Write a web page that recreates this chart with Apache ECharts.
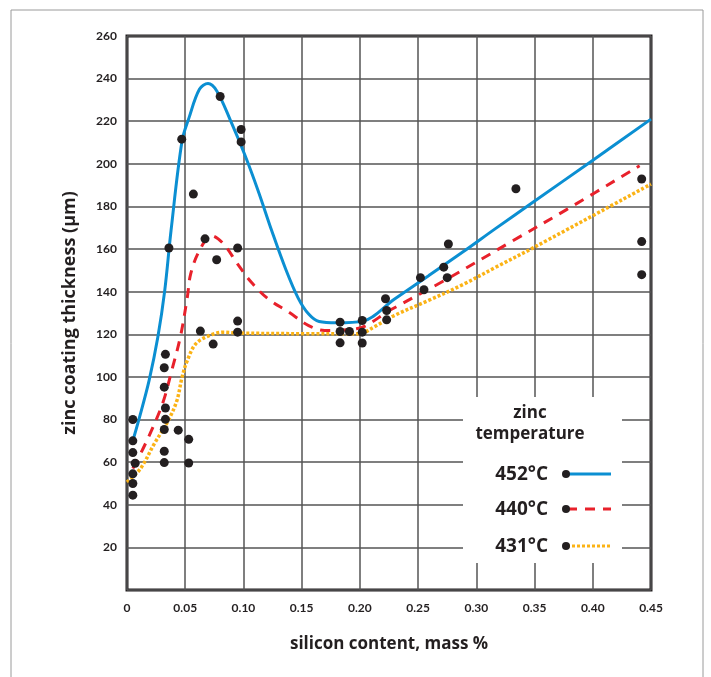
<!DOCTYPE html>
<html>
<head>
<meta charset="utf-8">
<script src="https://cdn.jsdelivr.net/npm/echarts@6/dist/echarts.min.js"></script>
<style>
html,body{margin:0;padding:0;background:#fff;}
#chart{width:711px;height:677px;}
</style>
</head>
<body>
<div id="chart"></div>
<script>
// ---- data ----
const xTickLabels = ['0','0.05','0.10','0.15','0.20','0.25','0.30','0.35','0.40','0.45'];
const yTickLabels = ['', '20','40','60','80','100','120','140','160','180','200','220','240','260'];

// measured points (silicon mass %, coating thickness µm)
const measuredSi = [0.005,0.005,0.005,0.007,0.005,0.005,0.005,
  0.033,0.032,0.032,0.033,0.033,0.032,0.032,0.032,
  0.036,0.044,0.047,0.053,0.053,0.057,0.063,0.067,0.074,0.077,0.080,
  0.095,0.095,0.095,0.098,0.098,
  0.183,0.183,0.183,0.191,0.202,0.202,0.202,
  0.222,0.223,0.223,0.252,0.255,0.272,0.275,0.276,
  0.334,0.442,0.442,0.442];
const measuredZn = [80,70,64.5,59.5,54.5,50,44.5,
  110.6,104.3,95.2,85.4,80.1,75.3,65.1,59.8,
  160.5,75,211.6,70.7,59.6,185.8,121.5,164.8,115.4,155,231.6,
  160.5,126.2,121,216.1,210.3,
  125.7,121.3,116,121.3,126.5,121,115.9,
  136.7,131.2,126.8,146.6,140.9,151.5,146.6,162.4,
  188.3,192.9,163.5,148];

// fitted curves
const si452 = [0.005,0.010,0.019,0.0265,0.0324,0.0378,0.0473,0.0533,0.0622,0.0696,0.0771,0.089,0.1009,0.1126,0.1243,0.136,0.147,0.156,0.165,0.18,0.2027,0.2295,0.259,0.2883,0.3164,0.3492,0.3998,0.45];
const zn452 = [70,79.6,98.4,118.7,140.5,168.6,210.8,221.7,235,237.7,234.2,220.2,204.6,187.4,168.6,151,137,129.5,126,125.4,126.2,136.5,147.5,158.6,169.6,182.2,201.6,221];

const si440 = [0.005,0.0131,0.0205,0.031,0.0384,0.0458,0.0518,0.0547,0.0622,0.0726,0.083,0.0949,0.1068,0.1211,0.1389,0.156,0.1697,0.197,0.2265,0.2737,0.3301,0.3771,0.4402];
const zn440 = [57,65.6,74.2,88.2,103,118.7,137.4,148.4,159.3,166.3,162.4,153,144.4,136.7,130.4,124.1,121.8,122.6,131.5,145.6,163.5,178.4,199.1];

const si431 = [0,0.0116,0.0235,0.0355,0.0429,0.0473,0.0518,0.0592,0.0712,0.083,0.0949,0.1533,0.1998,0.2116,0.2295,0.259,0.2883,0.3164,0.3492,0.45];
const zn431 = [50.6,57,68.7,79.6,89,99.9,107.7,115.6,119.5,121,120.6,120.3,120.3,123.3,128.8,135.9,143.3,151.4,160.7,190.5];

const legendLabels = ['452°C','440°C','431°C'];
const legendTitle = ['zinc','temperature'];

// ---- chart ----
const ink = '#231f20';
const FONT = 'Lato';
const TFONT = 'Open Sans';
const zip = (a,b) => a.map((v,i)=>[v,b[i]]);

const chart = echarts.init(document.getElementById('chart'));

const legendColors = ['#0b8fd2','#e8212b','#fbb316'];
const legendDash = ['solid',[10,8],[3,2]];
const legendY = [474,509,546];
const legendGraphics = [
  {type:'rect', shape:{x:463,y:397,width:159,height:166}, style:{fill:'#fff'}, z:50},
  {type:'text', style:{text:legendTitle[0], x:530, y:413, align:'center', verticalAlign:'middle', fontSize:17, fontWeight:'bold', fontFamily:TFONT, fill:ink}, z:51},
  {type:'text', style:{text:legendTitle[1], x:530, y:434, align:'center', verticalAlign:'middle', fontSize:17, fontWeight:'bold', fontFamily:TFONT, fill:ink}, z:51}
];
legendLabels.forEach((t,i)=>{
  legendGraphics.push({type:'text', style:{text:t, x:548, y:legendY[i]+1, align:'right', verticalAlign:'middle', fontSize:19, fontWeight:'bold', fontFamily:TFONT, fill:ink}, z:51});
  legendGraphics.push({type:'line', shape:{x1:567,y1:legendY[i],x2:611,y2:legendY[i]}, style:{stroke:legendColors[i], lineWidth:3, lineDash:legendDash[i]==='solid'?null:legendDash[i]}, z:51});
  legendGraphics.push({type:'circle', shape:{cx:566,cy:legendY[i],r:4}, style:{fill:ink}, z:52});
});
// outer frame lines
legendGraphics.push({type:'line', shape:{x1:11,y1:10,x2:11,y2:677}, style:{stroke:'#9a9a9a', lineWidth:1}, z:1});
legendGraphics.push({type:'line', shape:{x1:703,y1:10,x2:703,y2:677}, style:{stroke:'#9a9a9a', lineWidth:1}, z:1});
legendGraphics.push({type:'line', shape:{x1:11,y1:10,x2:703,y2:10}, style:{stroke:'#9a9a9a', lineWidth:1}, z:1});

chart.setOption({
  animation:false,
  backgroundColor:'#fff',
  grid:{left:127, right:60, top:36, bottom:87, show:true, borderColor:ink, borderWidth:3, backgroundColor:'transparent'},
  xAxis:{
    type:'value', min:0, max:0.45, interval:0.05,
    name:'silicon content, mass %', nameLocation:'middle', nameGap:46,
    nameTextStyle:{fontSize:17, fontWeight:'bold', fontFamily:TFONT, color:ink},
    axisLine:{show:false}, axisTick:{show:false},
    axisLabel:{margin:12, fontSize:12, fontWeight:'bold', fontFamily:FONT, color:ink,
      formatter:(v)=>{const i=Math.round(v/0.05); return xTickLabels[i]!==undefined?xTickLabels[i]:'';}},
    splitLine:{show:true, lineStyle:{color:'#555', width:1.5}}
  },
  yAxis:{
    type:'value', min:0, max:260, interval:20,
    name:'zinc coating thickness (μm)', nameLocation:'middle', nameGap:48,
    nameTextStyle:{fontSize:18, fontWeight:'bold', fontFamily:TFONT, color:ink},
    axisLine:{show:false}, axisTick:{show:false},
    axisLabel:{margin:10, fontSize:12, fontWeight:'bold', fontFamily:FONT, color:ink,
      formatter:(v)=>{const i=Math.round(v/20); return yTickLabels[i]!==undefined?yTickLabels[i]:'';}},
    splitLine:{show:true, lineStyle:{color:'#555', width:1.5}}
  },
  graphic: legendGraphics,
  series:[
    {type:'line', name:legendLabels[0], data:zip(si452,zn452), smooth:0.35, showSymbol:false, symbol:'none',
      lineStyle:{color:legendColors[0], width:3}, z:3},
    {type:'line', name:legendLabels[1], data:zip(si440,zn440), smooth:0.35, showSymbol:false, symbol:'none',
      lineStyle:{color:legendColors[1], width:3, type:[10,8]}, z:3},
    {type:'line', name:legendLabels[2], data:zip(si431,zn431), smooth:0.35, showSymbol:false, symbol:'none',
      lineStyle:{color:legendColors[2], width:3.5, type:[3,2]}, z:3},
    {type:'scatter', name:'measured', data:zip(measuredSi,measuredZn), symbol:'circle', symbolSize:9,
      itemStyle:{color:ink, opacity:1}, z:5}
  ]
});
</script>
</body>
</html>
